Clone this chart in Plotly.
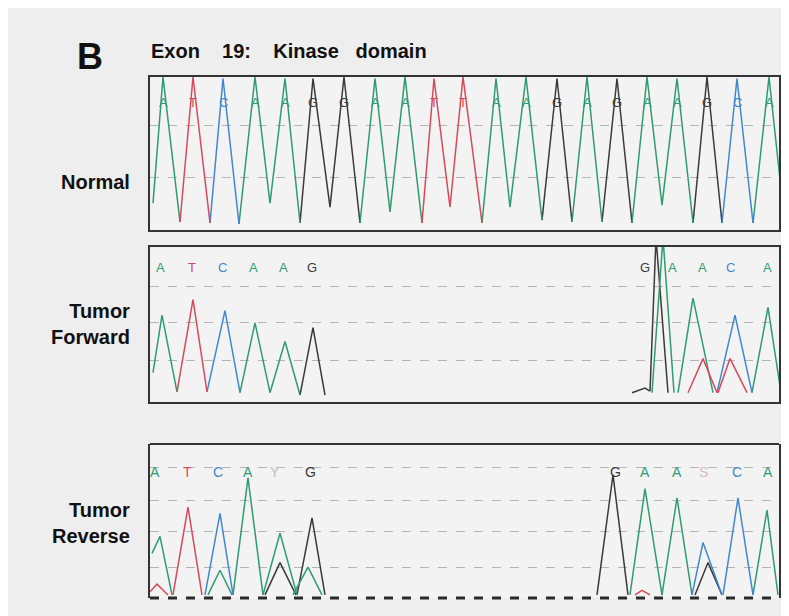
import plotly.graph_objects as go

# ---------------- data ----------------
COLORS = {"A": "#2f9b72", "T": "#d64a5c", "C": "#4287cf", "G": "#3a3a3a"}

# Normal trace (scan position units, signal as fraction of panel height)
norm_bases = list("ATCAAGGAATTAAGAGAAGCA")
norm_apex_x = [13, 43, 73, 105, 135, 163, 194, 225, 255, 284, 313, 346, 376, 407, 437, 467, 497, 527, 557, 587, 619]
norm_apex_y = [1.0, 1.0, 0.99, 1.0, 0.99, 0.99, 1.0, 0.99, 1.0, 0.99, 1.0, 0.99, 1.0, 0.99, 1.0, 0.99, 1.0, 0.99, 1.0, 0.99, 1.0]
norm_trough_x = [3, 30, 60, 89, 120, 150, 180, 210, 240, 272, 300, 332, 360, 392, 422, 452, 482, 512, 543, 572, 603, 633]
norm_trough_y = [0.176, 0.052, 0.046, 0.039, 0.176, 0.046, 0.15, 0.046, 0.118, 0.046, 0.15, 0.046,
                 0.15, 0.065, 0.052, 0.052, 0.046, 0.163, 0.046, 0.046, 0.046, 0.15]

# Tumor forward peaks
fwd_base = ["A", "T", "C", "A", "A", "G", "G", "G", "A", "A", "T", "T", "C", "A"]
fwd_left_x = [3, 27, 57, 90, 120, 150, 482, 500, 502, 528, 538, 568, 567, 602]
fwd_left_y = [0.19, 0.065, 0.065, 0.06, 0.06, 0.045, 0.06, 0.07, 0.06, 0.06, 0.06, 0.06, 0.06, 0.06]
fwd_apex_x = [12, 43, 75, 105, 135, 163, 495, 506, 513, 543, 553, 580, 585, 618]
fwd_apex_y = [0.56, 0.66, 0.59, 0.51, 0.39, 0.48, 0.09, 1.06, 1.06, 0.67, 0.28, 0.28, 0.56, 0.61]
fwd_right_x = [27, 57, 90, 120, 150, 175, 500, 518, 524, 563, 567, 597, 602, 631]
fwd_right_y = [0.065, 0.065, 0.06, 0.06, 0.045, 0.045, 0.07, 0.06, 0.06, 0.06, 0.06, 0.06, 0.06, 0.06]
fwd_letters = list("ATCAAG") + list("GAACA")
fwd_letter_x = [10, 42, 72, 103, 133, 162, 495, 522, 552, 580, 617]

# Tumor reverse peaks
rev_base = ["A", "T", "T", "C", "A", "A", "A", "G", "G", "A", "G", "T", "A", "A", "C", "G", "C", "A"]
rev_left_x = [2, 0, 23, 55, 58, 83, 113, 115, 147, 143, 447, 485, 480, 512, 542, 545, 573, 603]
rev_left_y = [0.29, 0.04, 0.02, 0.02, 0.02, 0.02, 0.02, 0.02, 0.02, 0.02, 0.02, 0.02, 0.02, 0.02, 0.02, 0.02, 0.02, 0.02]
rev_apex_x = [10, 7, 38, 70, 70, 98, 130, 130, 162, 158, 463, 492, 495, 527, 553, 558, 588, 617]
rev_apex_y = [0.40, 0.09, 0.59, 0.55, 0.18, 0.78, 0.42, 0.23, 0.52, 0.20, 0.80, 0.05, 0.71, 0.65, 0.36, 0.23, 0.65, 0.57]
rev_right_x = [22, 18, 52, 83, 82, 113, 147, 146, 175, 172, 478, 500, 512, 542, 572, 572, 603, 628]
rev_right_y = [0.02] * 18
rev_letters = list("ATCAYG") + list("GAASCA")
rev_letter_x = [5, 37, 68, 98, 125, 160, 465, 495, 527, 553, 587, 618]

AMBIG = {"Y": "#c9bcae", "S": "#d8bcbc"}

panel_labels = ["Normal", "Tumor<br>Forward", "Tumor<br>Reverse"]
title_text = "Exon\u00a0\u00a0\u00a0\u00a019:\u00a0\u00a0\u00a0\u00a0Kinase\u00a0\u00a0\u00a0domain"

# ---------------- helpers ----------------
def channel_traces_normal():
    segs = {b: ([], []) for b in "ACGT"}
    prev = None
    for i, b in enumerate(norm_bases):
        xs, ys = segs[b]
        if prev != b:
            if xs:
                xs.append(None); ys.append(None)
            xs.append(norm_trough_x[i]); ys.append(norm_trough_y[i])
        xs += [norm_apex_x[i], norm_trough_x[i + 1]]
        ys += [norm_apex_y[i], norm_trough_y[i + 1]]
        prev = b
    return segs

def channel_traces_peaks(base, lx, ly, ax, ay, rx, ry):
    segs = {b: ([], []) for b in "ACGT"}
    for i, b in enumerate(base):
        xs, ys = segs[b]
        if xs:
            xs.append(None); ys.append(None)
        xs += [lx[i], ax[i], rx[i]]
        ys += [ly[i], ay[i], ry[i]]
    return segs

fig = go.Figure()
panels = [
    ("x", "y", channel_traces_normal()),
    ("x2", "y2", channel_traces_peaks(fwd_base, fwd_left_x, fwd_left_y, fwd_apex_x, fwd_apex_y, fwd_right_x, fwd_right_y)),
    ("x3", "y3", channel_traces_peaks(rev_base, rev_left_x, rev_left_y, rev_apex_x, rev_apex_y, rev_right_x, rev_right_y)),
]
for xa, ya, segs in panels:
    for b in "GACT":
        xs, ys = segs[b]
        if not xs:
            continue
        fig.add_trace(go.Scatter(x=xs, y=ys, xaxis=xa, yaxis=ya, mode="lines",
                                 line=dict(color=COLORS[b], width=1.5),
                                 hoverinfo="skip", showlegend=False))

# page body has an 8px margin: size the figure so it ends at the window edge
OFF = 8
W, H = 789 - OFF, 616 - OFF
def fx(px):
    return (px - OFF) / W
def fy(py):
    return 1 - (py - OFF) / H

RIGHT = 779
xdom = [fx(150), fx(RIGHT)]
doms = [[fy(230), fy(77)], [fy(402), fy(247)], [fy(598), fy(444)]]
grids = [[0.34, 0.686], [0.27, 0.51, 0.742], [0.201, 0.43, 0.636, 0.85]]

layout = dict(width=W, height=H, margin=dict(l=0, r=0, t=0, b=0),
              paper_bgcolor="#eeeeee", plot_bgcolor="#f3f3f3", showlegend=False)
for k in range(3):
    sx = "" if k == 0 else str(k + 1)
    box = k < 2
    layout["xaxis" + sx] = dict(domain=xdom, range=[0, RIGHT - 150], anchor="y" + sx,
                                showgrid=False, zeroline=False, showticklabels=False, ticks="",
                                showline=box, mirror=box, linecolor="#333333", linewidth=2)
    layout["yaxis" + sx] = dict(domain=doms[k], range=[0, 1], anchor="x" + sx,
                                tickvals=grids[k], showgrid=True, gridcolor="#b5b5b5", gridwidth=1,
                                griddash="dash", zeroline=False, showticklabels=False, ticks="",
                                showline=True, mirror=True, linecolor="#333333", linewidth=2)
fig.update_layout(**layout)

# panel 3 top solid and bottom dashed border
fig.add_shape(type="line", xref="x3 domain", yref="y3 domain", x0=0, x1=1, y0=1, y1=1,
              line=dict(color="#333333", width=2))
fig.add_shape(type="line", xref="x3 domain", yref="y3 domain", x0=0, x1=1, y0=0, y1=0,
              line=dict(color="#2a2a2a", width=3, dash="dash"))

FONT = "Liberation Sans, Arial, sans-serif"
ann = []
# base-call letters
for b, x in zip(norm_bases, norm_apex_x):
    ann.append(dict(x=x, y=0.895, xref="x", yref="y domain", text=b, showarrow=False,
                    font=dict(family=FONT, size=13, color=COLORS[b])))
for b, x in zip(fwd_letters, fwd_letter_x):
    ann.append(dict(x=x, y=0.93, xref="x2", yref="y2 domain", text=b, showarrow=False,
                    font=dict(family=FONT, size=13, color=COLORS.get(b, AMBIG.get(b)))))
for b, x in zip(rev_letters, rev_letter_x):
    ann.append(dict(x=x, y=0.883, xref="x3", yref="y3 domain", text=b, showarrow=False,
                    font=dict(family=FONT, size=14, color=COLORS.get(b, AMBIG.get(b)))))

# labels
label_y = [182, 324, 523]
for t, yy in zip(panel_labels, label_y):
    ann.append(dict(x=fx(132), y=fy(yy), xref="paper", yref="paper", text="<b>" + t + "</b>",
                    showarrow=False, xanchor="right", yanchor="middle", align="right",
                    font=dict(family=FONT, size=20, color="#111111")))
ann.append(dict(x=fx(90), y=fy(56), xref="paper", yref="paper", text="<b>B</b>",
                showarrow=False, xanchor="center", yanchor="middle",
                font=dict(family=FONT, size=36, color="#111111")))
ann.append(dict(x=fx(149), y=fy(51), xref="paper", yref="paper", text="<b>" + title_text + "</b>",
                showarrow=False, xanchor="left", yanchor="middle",
                font=dict(family=FONT, size=20, color="#111111")))
fig.update_layout(annotations=ann)

fig.write_html("out.html")
